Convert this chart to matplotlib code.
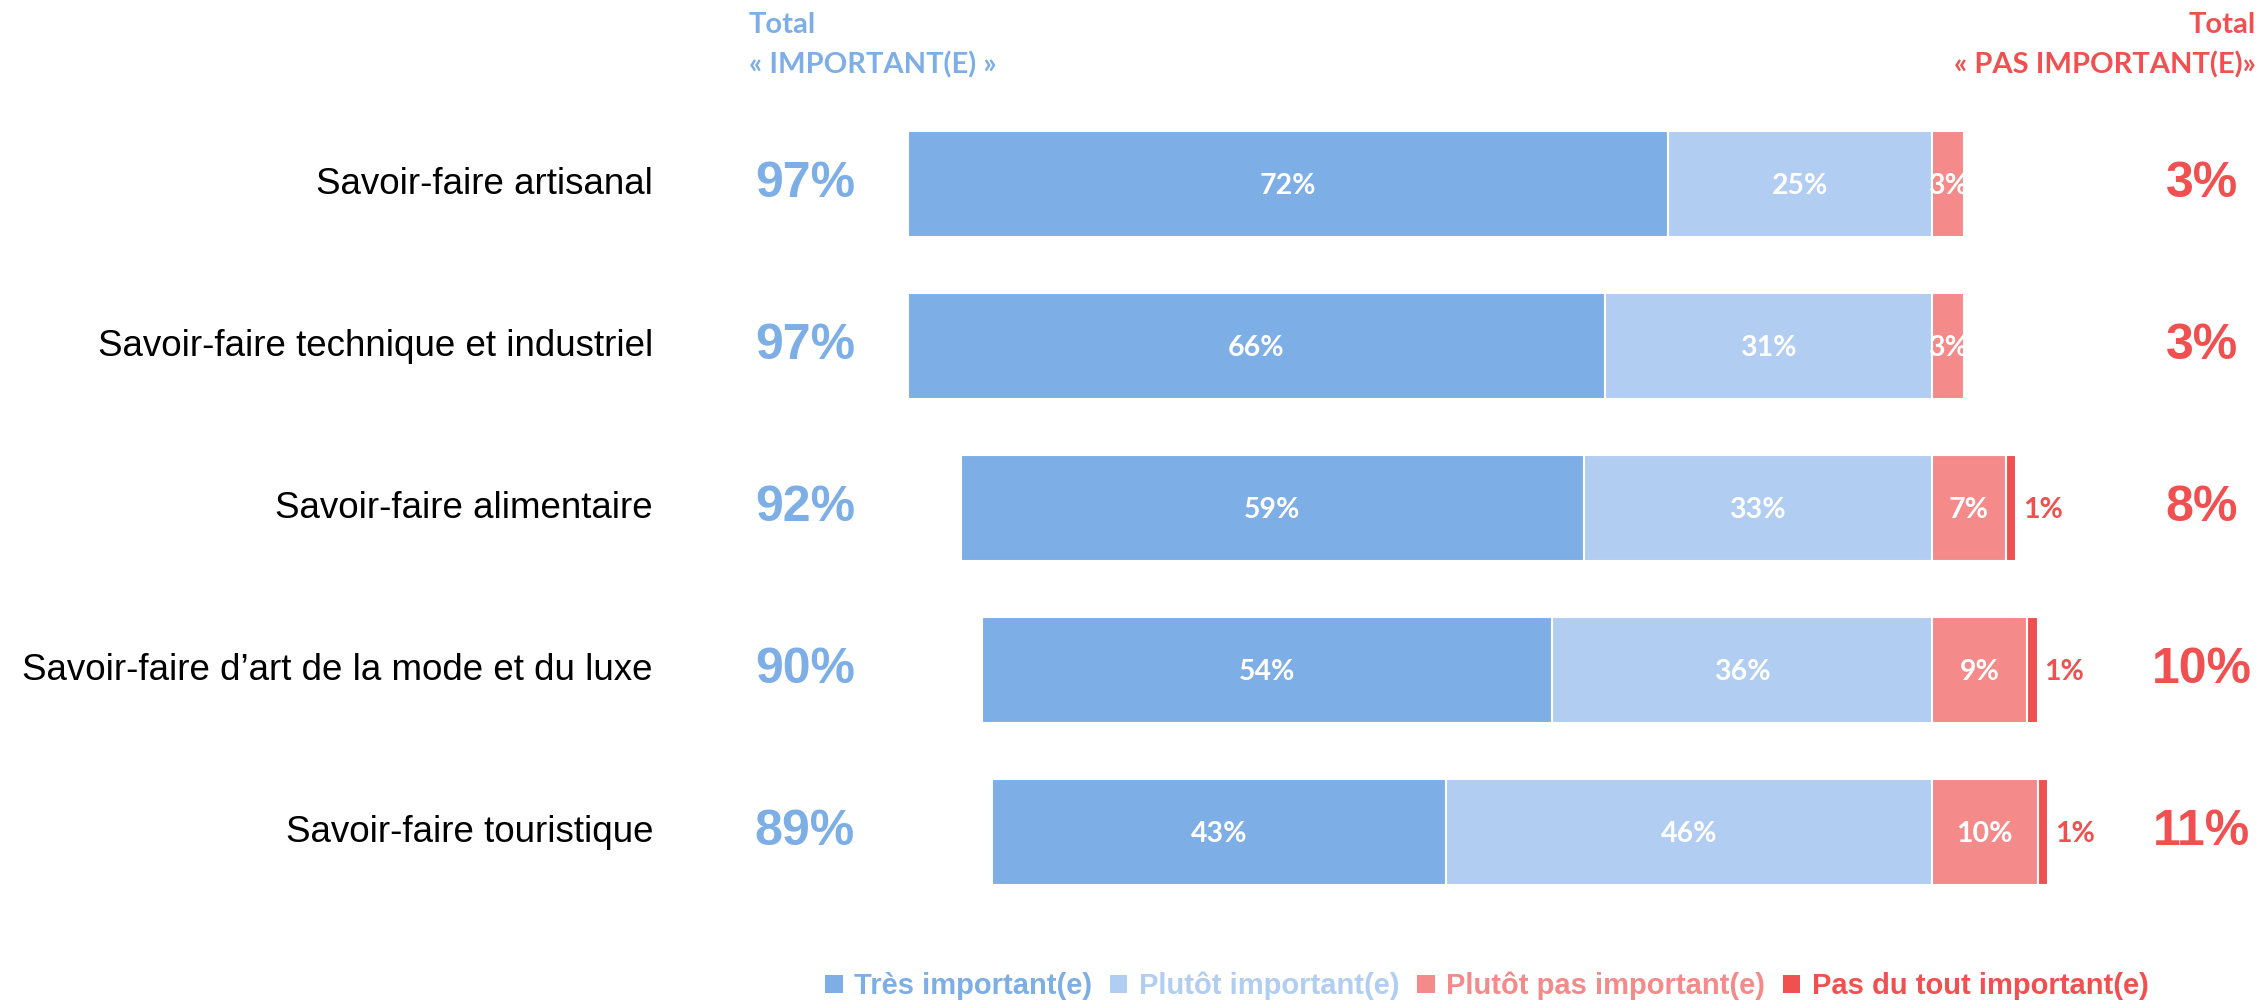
import numpy as np
import matplotlib
matplotlib.use("Agg")
import matplotlib.pyplot as plt
from matplotlib.patches import Patch

categories = [
    "Savoir-faire artisanal",
    "Savoir-faire technique et industriel",
    "Savoir-faire alimentaire",
    "Savoir-faire d\u2019art de la mode et du luxe",
    "Savoir-faire touristique",
]
tres = [72, 66, 59, 54, 43]
plutot = [25, 31, 33, 36, 46]
plutot_pas = [3, 3, 7, 9, 10]
pas_du_tout = [0, 0, 1, 1, 1]
total_important = [97, 97, 92, 90, 89]
total_pas_important = [3, 3, 8, 10, 11]

series_names = ["Très important(e)", "Plutôt important(e)",
                "Plutôt pas important(e)", "Pas du tout important(e)"]
colors = ["#7DAEE6", "#B1CDF1", "#F48A8A", "#F05050"]

W, H = 2260, 1001
fig = plt.figure(figsize=(W / 100, H / 100), dpi=100)
ax = fig.add_axes([0, 0, 1, 1])

# pixel geometry -> data limits (x=0 is the split between positive and negative)
px_per_pct = 10.557
x0_px = 1932
ax.set_xlim(-x0_px / px_per_pct, (W - x0_px) / px_per_pct)
row_px = 162
first_px = 184
ax.set_ylim((H - first_px) / row_px, -first_px / row_px)
ax.axis("off")

y = np.arange(len(categories))
tres_a = np.array(tres)
plutot_a = np.array(plutot)
pp_a = np.array(plutot_pas)
pdt_a = np.array(pas_du_tout)

h = 0.66
kw = dict(height=h, edgecolor="white", linewidth=1.5)
ax.barh(y, -tres_a, left=-plutot_a, color=colors[0], **kw)
ax.barh(y, -plutot_a, left=0, color=colors[1], **kw)
ax.barh(y, pp_a, left=0, color=colors[2], **kw)
ax.barh(y, pdt_a, left=pp_a, color=colors[3], **kw)

lab_font = dict(family=["Lato", "DejaVu Sans"], fontsize=20.5, fontweight="bold")
for i in range(len(categories)):
    ax.text(-plutot_a[i] - tres_a[i] / 2, y[i] + 0.01, f"{tres[i]}%", color="white",
            ha="center", va="center", **lab_font)
    ax.text(-plutot_a[i] / 2, y[i] + 0.01, f"{plutot[i]}%", color="white",
            ha="center", va="center", **lab_font)
    ax.text(pp_a[i] / 2, y[i] + 0.01, f"{plutot_pas[i]}%", color="white",
            ha="center", va="center", **lab_font)
    if pas_du_tout[i] > 0:
        ax.text(pp_a[i] + pdt_a[i] + 0.65, y[i] + 0.01, f"{pas_du_tout[i]}%",
                color=colors[3], ha="left", va="center", **lab_font)

    ax.text((653 - x0_px) / px_per_pct, y[i], categories[i],
            ha="right", va="center", fontsize=26.5,
            family=["Liberation Sans", "DejaVu Sans"], color="black")
    ax.text((805 - x0_px) / px_per_pct, y[i], f"{total_important[i]}%",
            ha="center", va="center", fontsize=36, fontweight="bold",
            family=["Liberation Sans", "DejaVu Sans"], color=colors[0])
    ax.text((2202 - x0_px) / px_per_pct, y[i], f"{total_pas_important[i]}%",
            ha="center", va="center", fontsize=36, fontweight="bold",
            family=["Liberation Sans", "DejaVu Sans"], color=colors[3])

hdr = dict(family=["Lato", "DejaVu Sans"], fontsize=21, fontweight="bold")
fig.text(749 / W, 1 - 33 / H, "Total", ha="left", va="baseline", color=colors[0], **hdr)
fig.text(749 / W, 1 - 73 / H, "\u00ab IMPORTANT(E) \u00bb", ha="left", va="baseline",
         color=colors[0], **hdr)
fig.text(2256 / W, 1 - 33 / H, "Total", ha="right", va="baseline", color=colors[3], **hdr)
fig.text(2256 / W, 1 - 73 / H, "\u00ab PAS IMPORTANT(E)\u00bb", ha="right", va="baseline",
         color=colors[3], **hdr)

handles = [Patch(facecolor=c, edgecolor="none") for c in colors]
leg = fig.legend(handles, series_names, loc="center", bbox_to_anchor=(1487 / W, 1 - 986 / H),
                 ncol=4, frameon=False, handlelength=0.6, handleheight=0.6,
                 handletextpad=0.4, columnspacing=0.6,
                 prop=dict(family=["Liberation Sans Narrow", "Liberation Sans"],
                           size=21, weight="bold"))
for t, c in zip(leg.get_texts(), colors):
    t.set_color(c)

fig.savefig("out.png", dpi=100)
